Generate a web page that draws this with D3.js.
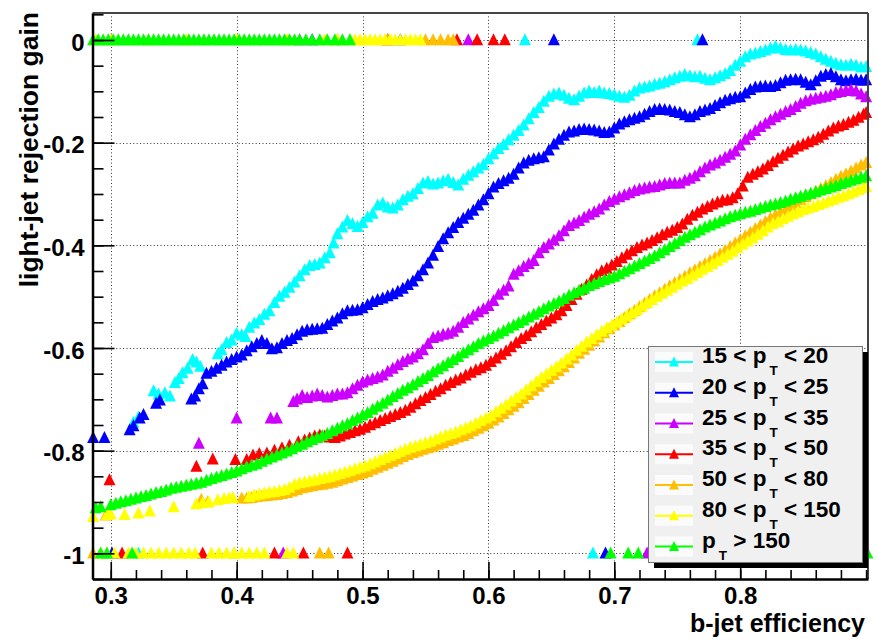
<!DOCTYPE html>
<html><head><meta charset="utf-8">
<script src="https://cdn.jsdelivr.net/npm/d3@7"></script>
<style>
body{margin:0;background:#fff}
svg{display:block}
text{font-family:"Liberation Sans",Arial,Helvetica,sans-serif;font-weight:bold;fill:#000}
</style>
</head><body>
<svg id="c" width="877" height="641"></svg>
<script>
// ---------------- DATA (b-jet efficiency, light-jet rejection gain) ----------------
const seriesLabels = ["15 < p_T < 20","20 < p_T < 25","25 < p_T < 35","35 < p_T < 50","50 < p_T < 80","80 < p_T < 150","p_T > 150"];
const xTickValues = [0.3,0.4,0.5,0.6,0.7,0.8];
const xTickLabels = ["0.3","0.4","0.5","0.6","0.7","0.8"];
const yTickValues = [0,-0.2,-0.4,-0.6,-0.8,-1];
const yTickLabels = ["0","-0.2","-0.4","-0.6","-0.8","-1"];

const pt15_20 = [[0.318,-0.745],[0.322,-0.735],[0.334,-0.684],[0.338,-0.690],[0.343,-0.688],[0.347,-0.694],[0.351,-0.668],[0.354,-0.660],[0.357,-0.649],[0.361,-0.640],[0.365,-0.623],[0.368,-0.628],[0.371,-0.636],[0.385,-0.612],[0.388,-0.604],[0.392,-0.590],[0.396,-0.585],[0.400,-0.572],[0.404,-0.575],[0.407,-0.578],[0.410,-0.560],[0.414,-0.552],[0.418,-0.545],[0.422,-0.535],[0.426,-0.528],[0.430,-0.512],[0.434,-0.500],[0.438,-0.492],[0.442,-0.482],[0.446,-0.472],[0.450,-0.460],[0.454,-0.448],[0.458,-0.440],[0.462,-0.438],[0.466,-0.435],[0.470,-0.425],[0.474,-0.415],[0.477,-0.396],[0.480,-0.378],[0.484,-0.365],[0.488,-0.352],[0.492,-0.358],[0.496,-0.364],[0.500,-0.356],[0.504,-0.345],[0.508,-0.338],[0.512,-0.322],[0.516,-0.318],[0.520,-0.326],[0.524,-0.328],[0.528,-0.322],[0.532,-0.312],[0.536,-0.305],[0.540,-0.300],[0.544,-0.290],[0.548,-0.279],[0.552,-0.276],[0.556,-0.281],[0.560,-0.279],[0.564,-0.275],[0.568,-0.272],[0.572,-0.278],[0.576,-0.283],[0.580,-0.272],[0.584,-0.264],[0.588,-0.257],[0.592,-0.250],[0.596,-0.243],[0.600,-0.232],[0.604,-0.222],[0.608,-0.212],[0.612,-0.204],[0.616,-0.195],[0.620,-0.186],[0.624,-0.177],[0.628,-0.166],[0.632,-0.154],[0.636,-0.142],[0.640,-0.132],[0.644,-0.120],[0.648,-0.110],[0.652,-0.106],[0.656,-0.104],[0.660,-0.108],[0.664,-0.114],[0.668,-0.117],[0.672,-0.110],[0.676,-0.104],[0.680,-0.100],[0.684,-0.103],[0.688,-0.100],[0.692,-0.104],[0.696,-0.105],[0.700,-0.107],[0.704,-0.110],[0.708,-0.112],[0.712,-0.108],[0.716,-0.100],[0.720,-0.094],[0.724,-0.092],[0.728,-0.090],[0.732,-0.087],[0.736,-0.085],[0.740,-0.082],[0.744,-0.078],[0.748,-0.074],[0.752,-0.071],[0.756,-0.068],[0.760,-0.070],[0.764,-0.072],[0.768,-0.071],[0.772,-0.075],[0.776,-0.078],[0.780,-0.074],[0.784,-0.070],[0.788,-0.066],[0.792,-0.060],[0.796,-0.050],[0.800,-0.042],[0.804,-0.033],[0.808,-0.028],[0.812,-0.026],[0.816,-0.023],[0.820,-0.020],[0.824,-0.016],[0.828,-0.013],[0.832,-0.016],[0.836,-0.019],[0.840,-0.020],[0.844,-0.019],[0.848,-0.020],[0.852,-0.022],[0.856,-0.025],[0.860,-0.028],[0.864,-0.033],[0.868,-0.038],[0.872,-0.042],[0.876,-0.046],[0.880,-0.049],[0.884,-0.050],[0.888,-0.048],[0.892,-0.050],[0.896,-0.053],[0.900,-0.052]];

const pt20_25 = [[0.286,-0.775],[0.295,-0.775],[0.315,-0.760],[0.318,-0.752],[0.323,-0.737],[0.326,-0.730],[0.336,-0.708],[0.339,-0.702],[0.364,-0.700],[0.367,-0.694],[0.370,-0.680],[0.373,-0.670],[0.376,-0.650],[0.380,-0.646],[0.384,-0.640],[0.388,-0.634],[0.392,-0.628],[0.396,-0.623],[0.400,-0.618],[0.404,-0.614],[0.408,-0.606],[0.412,-0.598],[0.416,-0.592],[0.420,-0.586],[0.424,-0.592],[0.428,-0.602],[0.432,-0.600],[0.436,-0.592],[0.440,-0.586],[0.444,-0.582],[0.448,-0.575],[0.452,-0.568],[0.456,-0.565],[0.460,-0.564],[0.464,-0.563],[0.468,-0.562],[0.472,-0.555],[0.476,-0.548],[0.480,-0.542],[0.484,-0.534],[0.488,-0.528],[0.492,-0.527],[0.496,-0.526],[0.500,-0.522],[0.504,-0.516],[0.508,-0.510],[0.512,-0.506],[0.516,-0.503],[0.520,-0.499],[0.524,-0.495],[0.528,-0.490],[0.532,-0.484],[0.536,-0.477],[0.540,-0.470],[0.544,-0.460],[0.548,-0.448],[0.552,-0.435],[0.556,-0.420],[0.560,-0.403],[0.564,-0.388],[0.568,-0.376],[0.572,-0.366],[0.576,-0.356],[0.580,-0.348],[0.584,-0.340],[0.588,-0.332],[0.592,-0.322],[0.596,-0.312],[0.600,-0.300],[0.604,-0.287],[0.608,-0.280],[0.612,-0.275],[0.616,-0.270],[0.620,-0.262],[0.624,-0.250],[0.628,-0.240],[0.632,-0.235],[0.636,-0.232],[0.640,-0.230],[0.644,-0.228],[0.648,-0.215],[0.652,-0.203],[0.656,-0.194],[0.660,-0.186],[0.664,-0.180],[0.668,-0.178],[0.672,-0.175],[0.676,-0.174],[0.680,-0.175],[0.684,-0.176],[0.688,-0.178],[0.692,-0.181],[0.696,-0.180],[0.700,-0.172],[0.704,-0.164],[0.708,-0.160],[0.712,-0.156],[0.716,-0.153],[0.720,-0.150],[0.724,-0.145],[0.728,-0.140],[0.732,-0.136],[0.736,-0.135],[0.740,-0.136],[0.744,-0.137],[0.748,-0.140],[0.752,-0.142],[0.756,-0.146],[0.760,-0.150],[0.764,-0.146],[0.768,-0.140],[0.772,-0.137],[0.776,-0.134],[0.780,-0.128],[0.784,-0.123],[0.788,-0.118],[0.792,-0.115],[0.796,-0.112],[0.800,-0.111],[0.804,-0.104],[0.808,-0.097],[0.812,-0.092],[0.816,-0.091],[0.820,-0.090],[0.824,-0.091],[0.828,-0.089],[0.832,-0.084],[0.836,-0.079],[0.840,-0.078],[0.844,-0.077],[0.848,-0.078],[0.852,-0.083],[0.856,-0.088],[0.860,-0.080],[0.864,-0.071],[0.868,-0.068],[0.872,-0.066],[0.876,-0.072],[0.880,-0.078],[0.884,-0.080],[0.888,-0.078],[0.892,-0.077],[0.896,-0.079],[0.900,-0.078]];

const pt25_35 = [[0.370,-0.786],[0.400,-0.737],[0.427,-0.737],[0.432,-0.737],[0.445,-0.705],[0.448,-0.700],[0.452,-0.693],[0.456,-0.697],[0.460,-0.694],[0.464,-0.690],[0.468,-0.693],[0.472,-0.696],[0.476,-0.693],[0.480,-0.690],[0.484,-0.690],[0.488,-0.688],[0.492,-0.680],[0.496,-0.673],[0.500,-0.667],[0.504,-0.663],[0.508,-0.660],[0.512,-0.657],[0.516,-0.653],[0.520,-0.646],[0.524,-0.640],[0.528,-0.633],[0.532,-0.627],[0.536,-0.622],[0.540,-0.618],[0.544,-0.612],[0.548,-0.604],[0.552,-0.592],[0.556,-0.580],[0.560,-0.577],[0.564,-0.574],[0.568,-0.572],[0.572,-0.568],[0.576,-0.560],[0.580,-0.551],[0.584,-0.544],[0.588,-0.537],[0.592,-0.530],[0.596,-0.524],[0.600,-0.518],[0.604,-0.508],[0.608,-0.496],[0.612,-0.488],[0.616,-0.480],[0.620,-0.457],[0.624,-0.450],[0.628,-0.442],[0.632,-0.436],[0.636,-0.430],[0.640,-0.415],[0.644,-0.405],[0.648,-0.398],[0.652,-0.390],[0.656,-0.382],[0.660,-0.372],[0.664,-0.362],[0.668,-0.357],[0.672,-0.352],[0.676,-0.346],[0.680,-0.340],[0.684,-0.335],[0.688,-0.330],[0.692,-0.322],[0.696,-0.315],[0.700,-0.311],[0.704,-0.306],[0.708,-0.302],[0.712,-0.298],[0.716,-0.294],[0.720,-0.291],[0.724,-0.289],[0.728,-0.287],[0.732,-0.286],[0.736,-0.283],[0.740,-0.280],[0.744,-0.279],[0.748,-0.279],[0.752,-0.279],[0.756,-0.274],[0.760,-0.270],[0.764,-0.265],[0.768,-0.257],[0.772,-0.250],[0.776,-0.244],[0.780,-0.240],[0.784,-0.235],[0.788,-0.229],[0.792,-0.223],[0.796,-0.217],[0.800,-0.205],[0.804,-0.194],[0.808,-0.185],[0.812,-0.177],[0.816,-0.169],[0.820,-0.163],[0.824,-0.156],[0.828,-0.150],[0.832,-0.145],[0.836,-0.140],[0.840,-0.136],[0.844,-0.130],[0.848,-0.124],[0.852,-0.119],[0.856,-0.116],[0.860,-0.114],[0.864,-0.112],[0.868,-0.110],[0.872,-0.107],[0.876,-0.103],[0.880,-0.101],[0.884,-0.099],[0.888,-0.097],[0.892,-0.100],[0.896,-0.106],[0.900,-0.111]];

const pt35_50 = [[0.299,-0.857],[0.368,-0.831],[0.381,-0.817],[0.399,-0.818],[0.408,-0.818],[0.413,-0.809],[0.418,-0.806],[0.424,-0.805],[0.430,-0.800],[0.436,-0.795],[0.442,-0.790],[0.449,-0.783],[0.454,-0.780],[0.458,-0.776],[0.462,-0.772],[0.466,-0.770],[0.470,-0.772],[0.474,-0.774],[0.478,-0.775],[0.482,-0.772],[0.486,-0.768],[0.490,-0.765],[0.494,-0.762],[0.498,-0.759],[0.502,-0.755],[0.506,-0.750],[0.510,-0.746],[0.514,-0.742],[0.518,-0.738],[0.522,-0.734],[0.526,-0.730],[0.530,-0.726],[0.534,-0.722],[0.538,-0.716],[0.542,-0.709],[0.546,-0.703],[0.550,-0.697],[0.554,-0.691],[0.558,-0.685],[0.562,-0.680],[0.566,-0.673],[0.570,-0.668],[0.574,-0.663],[0.578,-0.659],[0.582,-0.653],[0.586,-0.648],[0.590,-0.643],[0.594,-0.639],[0.598,-0.634],[0.602,-0.627],[0.606,-0.620],[0.610,-0.613],[0.614,-0.606],[0.618,-0.598],[0.622,-0.590],[0.626,-0.582],[0.630,-0.576],[0.634,-0.569],[0.638,-0.561],[0.642,-0.555],[0.646,-0.548],[0.650,-0.542],[0.654,-0.536],[0.658,-0.528],[0.662,-0.518],[0.666,-0.506],[0.670,-0.496],[0.674,-0.486],[0.678,-0.478],[0.682,-0.467],[0.686,-0.458],[0.690,-0.450],[0.694,-0.445],[0.698,-0.439],[0.702,-0.432],[0.706,-0.425],[0.710,-0.418],[0.714,-0.411],[0.718,-0.405],[0.722,-0.400],[0.726,-0.396],[0.730,-0.391],[0.734,-0.386],[0.738,-0.380],[0.742,-0.375],[0.746,-0.371],[0.750,-0.366],[0.754,-0.359],[0.758,-0.350],[0.762,-0.342],[0.766,-0.336],[0.770,-0.330],[0.774,-0.325],[0.778,-0.320],[0.782,-0.316],[0.786,-0.313],[0.790,-0.312],[0.794,-0.308],[0.798,-0.300],[0.802,-0.285],[0.806,-0.268],[0.810,-0.262],[0.814,-0.257],[0.818,-0.252],[0.822,-0.245],[0.826,-0.238],[0.830,-0.231],[0.834,-0.225],[0.838,-0.219],[0.842,-0.213],[0.846,-0.207],[0.850,-0.203],[0.854,-0.199],[0.858,-0.195],[0.862,-0.190],[0.866,-0.184],[0.870,-0.178],[0.874,-0.172],[0.878,-0.168],[0.882,-0.165],[0.886,-0.161],[0.890,-0.157],[0.894,-0.151],[0.898,-0.145],[0.900,-0.142]];

const pt50_80 = [[0.296,-0.926],[0.372,-0.895],[0.377,-0.900],[0.404,-0.893],[0.408,-0.893],[0.412,-0.892],[0.416,-0.890],[0.420,-0.889],[0.424,-0.888],[0.428,-0.887],[0.432,-0.886],[0.436,-0.884],[0.440,-0.882],[0.444,-0.879],[0.448,-0.876],[0.452,-0.873],[0.456,-0.871],[0.460,-0.869],[0.464,-0.867],[0.468,-0.866],[0.472,-0.864],[0.476,-0.862],[0.480,-0.859],[0.484,-0.856],[0.488,-0.853],[0.492,-0.850],[0.496,-0.847],[0.500,-0.844],[0.504,-0.841],[0.508,-0.837],[0.512,-0.833],[0.516,-0.829],[0.520,-0.825],[0.524,-0.821],[0.528,-0.817],[0.532,-0.812],[0.536,-0.808],[0.540,-0.804],[0.544,-0.801],[0.548,-0.798],[0.552,-0.795],[0.556,-0.792],[0.560,-0.788],[0.564,-0.785],[0.568,-0.781],[0.572,-0.778],[0.576,-0.774],[0.580,-0.771],[0.584,-0.767],[0.588,-0.762],[0.592,-0.757],[0.596,-0.752],[0.600,-0.747],[0.604,-0.741],[0.608,-0.735],[0.612,-0.728],[0.616,-0.721],[0.620,-0.714],[0.624,-0.707],[0.628,-0.699],[0.632,-0.691],[0.636,-0.683],[0.640,-0.675],[0.644,-0.667],[0.648,-0.660],[0.652,-0.652],[0.656,-0.645],[0.660,-0.637],[0.664,-0.629],[0.668,-0.620],[0.672,-0.611],[0.676,-0.603],[0.680,-0.595],[0.684,-0.587],[0.688,-0.579],[0.692,-0.571],[0.696,-0.563],[0.700,-0.556],[0.704,-0.549],[0.708,-0.541],[0.712,-0.534],[0.716,-0.527],[0.720,-0.520],[0.724,-0.513],[0.728,-0.506],[0.732,-0.499],[0.736,-0.493],[0.740,-0.486],[0.744,-0.479],[0.748,-0.473],[0.752,-0.467],[0.756,-0.461],[0.760,-0.454],[0.764,-0.448],[0.768,-0.442],[0.772,-0.436],[0.776,-0.430],[0.780,-0.424],[0.784,-0.417],[0.788,-0.410],[0.792,-0.403],[0.796,-0.396],[0.800,-0.389],[0.804,-0.382],[0.808,-0.375],[0.812,-0.368],[0.816,-0.361],[0.820,-0.354],[0.824,-0.347],[0.828,-0.341],[0.832,-0.335],[0.836,-0.330],[0.840,-0.324],[0.844,-0.318],[0.848,-0.312],[0.852,-0.306],[0.856,-0.300],[0.860,-0.295],[0.864,-0.290],[0.868,-0.284],[0.872,-0.278],[0.876,-0.272],[0.880,-0.266],[0.884,-0.261],[0.888,-0.256],[0.892,-0.250],[0.896,-0.244],[0.900,-0.239]];

const pt80_150 = [[0.286,-0.929],[0.297,-0.925],[0.300,-0.924],[0.311,-0.925],[0.322,-0.922],[0.331,-0.918],[0.350,-0.910],[0.368,-0.904],[0.373,-0.902],[0.378,-0.900],[0.385,-0.896],[0.390,-0.894],[0.394,-0.893],[0.397,-0.892],[0.410,-0.890],[0.414,-0.887],[0.418,-0.885],[0.422,-0.883],[0.426,-0.881],[0.430,-0.880],[0.434,-0.878],[0.438,-0.876],[0.442,-0.872],[0.446,-0.866],[0.450,-0.863],[0.454,-0.861],[0.458,-0.859],[0.462,-0.857],[0.466,-0.855],[0.470,-0.853],[0.474,-0.851],[0.478,-0.848],[0.482,-0.845],[0.486,-0.842],[0.490,-0.839],[0.494,-0.836],[0.498,-0.833],[0.502,-0.830],[0.506,-0.826],[0.510,-0.822],[0.514,-0.818],[0.518,-0.814],[0.522,-0.810],[0.526,-0.806],[0.530,-0.802],[0.534,-0.798],[0.538,-0.794],[0.542,-0.791],[0.546,-0.788],[0.550,-0.785],[0.554,-0.782],[0.558,-0.778],[0.562,-0.774],[0.566,-0.770],[0.570,-0.767],[0.574,-0.764],[0.578,-0.760],[0.582,-0.756],[0.586,-0.752],[0.590,-0.747],[0.594,-0.742],[0.598,-0.737],[0.602,-0.732],[0.606,-0.725],[0.610,-0.718],[0.614,-0.711],[0.618,-0.704],[0.622,-0.697],[0.626,-0.690],[0.630,-0.682],[0.634,-0.674],[0.638,-0.666],[0.642,-0.658],[0.646,-0.651],[0.650,-0.644],[0.654,-0.637],[0.658,-0.630],[0.662,-0.622],[0.666,-0.614],[0.670,-0.605],[0.674,-0.597],[0.678,-0.589],[0.682,-0.582],[0.686,-0.575],[0.690,-0.568],[0.694,-0.561],[0.698,-0.556],[0.702,-0.550],[0.706,-0.544],[0.710,-0.538],[0.714,-0.532],[0.718,-0.526],[0.722,-0.519],[0.726,-0.512],[0.730,-0.506],[0.734,-0.500],[0.738,-0.494],[0.742,-0.488],[0.746,-0.482],[0.750,-0.476],[0.754,-0.470],[0.758,-0.465],[0.762,-0.459],[0.766,-0.453],[0.770,-0.447],[0.774,-0.442],[0.778,-0.436],[0.782,-0.430],[0.786,-0.424],[0.790,-0.418],[0.794,-0.412],[0.798,-0.405],[0.802,-0.398],[0.806,-0.392],[0.810,-0.386],[0.814,-0.379],[0.818,-0.372],[0.822,-0.365],[0.826,-0.358],[0.830,-0.354],[0.834,-0.349],[0.838,-0.344],[0.842,-0.339],[0.846,-0.335],[0.850,-0.331],[0.854,-0.328],[0.858,-0.325],[0.862,-0.321],[0.866,-0.318],[0.870,-0.314],[0.874,-0.311],[0.878,-0.307],[0.882,-0.304],[0.886,-0.300],[0.890,-0.296],[0.894,-0.292],[0.898,-0.288],[0.900,-0.286]];

const pt150 = [[0.288,-0.912],[0.292,-0.910],[0.300,-0.906],[0.304,-0.903],[0.308,-0.900],[0.312,-0.898],[0.316,-0.895],[0.320,-0.893],[0.324,-0.890],[0.328,-0.888],[0.332,-0.885],[0.336,-0.882],[0.340,-0.880],[0.344,-0.877],[0.348,-0.874],[0.352,-0.872],[0.356,-0.870],[0.360,-0.868],[0.364,-0.866],[0.368,-0.864],[0.372,-0.862],[0.376,-0.858],[0.380,-0.855],[0.384,-0.852],[0.388,-0.849],[0.392,-0.846],[0.396,-0.843],[0.400,-0.840],[0.404,-0.836],[0.408,-0.832],[0.412,-0.829],[0.416,-0.826],[0.420,-0.821],[0.424,-0.817],[0.428,-0.813],[0.432,-0.809],[0.436,-0.805],[0.440,-0.801],[0.444,-0.797],[0.448,-0.792],[0.452,-0.788],[0.456,-0.783],[0.460,-0.779],[0.464,-0.775],[0.468,-0.771],[0.472,-0.767],[0.476,-0.762],[0.480,-0.757],[0.484,-0.752],[0.488,-0.748],[0.492,-0.742],[0.496,-0.737],[0.500,-0.731],[0.504,-0.726],[0.508,-0.720],[0.512,-0.714],[0.516,-0.708],[0.520,-0.702],[0.524,-0.695],[0.528,-0.689],[0.532,-0.683],[0.536,-0.678],[0.540,-0.672],[0.544,-0.666],[0.548,-0.660],[0.552,-0.654],[0.556,-0.647],[0.560,-0.641],[0.564,-0.635],[0.568,-0.629],[0.572,-0.623],[0.576,-0.617],[0.580,-0.610],[0.584,-0.604],[0.588,-0.598],[0.592,-0.592],[0.596,-0.587],[0.600,-0.582],[0.604,-0.577],[0.608,-0.572],[0.612,-0.567],[0.616,-0.561],[0.620,-0.556],[0.624,-0.551],[0.628,-0.546],[0.632,-0.540],[0.636,-0.535],[0.640,-0.530],[0.644,-0.524],[0.648,-0.519],[0.652,-0.514],[0.656,-0.509],[0.660,-0.504],[0.664,-0.498],[0.668,-0.493],[0.672,-0.488],[0.676,-0.484],[0.680,-0.479],[0.684,-0.475],[0.688,-0.471],[0.692,-0.467],[0.696,-0.464],[0.700,-0.461],[0.704,-0.456],[0.708,-0.451],[0.712,-0.446],[0.716,-0.441],[0.720,-0.436],[0.724,-0.431],[0.728,-0.426],[0.732,-0.421],[0.736,-0.415],[0.740,-0.409],[0.744,-0.403],[0.748,-0.397],[0.752,-0.391],[0.756,-0.385],[0.760,-0.380],[0.764,-0.375],[0.768,-0.370],[0.772,-0.365],[0.776,-0.361],[0.780,-0.357],[0.784,-0.353],[0.788,-0.349],[0.792,-0.345],[0.796,-0.342],[0.800,-0.339],[0.804,-0.336],[0.808,-0.334],[0.812,-0.331],[0.816,-0.328],[0.820,-0.325],[0.824,-0.322],[0.828,-0.320],[0.832,-0.317],[0.836,-0.314],[0.840,-0.311],[0.844,-0.308],[0.848,-0.305],[0.852,-0.302],[0.856,-0.299],[0.860,-0.296],[0.864,-0.293],[0.868,-0.290],[0.872,-0.287],[0.876,-0.284],[0.880,-0.280],[0.884,-0.277],[0.888,-0.274],[0.892,-0.271],[0.896,-0.268],[0.900,-0.265]];

// efficiencies of points sitting at gain = 0 and gain = -1, per series
const zero15_20 = [0.480,0.629,0.766];
const zero20_25 = [0.460,0.530,0.652,0.770];
const zero25_35 = [0.450,0.520,0.584];
const zero35_50 = [0.520,0.575,0.591,0.604,0.613];
const zero50_80 = [0.480,0.520,0.550,0.556,0.562,0.568,0.572];
const zero80_150 = [0.288,0.300,0.330,0.360,0.400,0.440,0.470,0.480,0.490,0.494,0.498,0.502,0.506,0.510,0.514,0.518,0.522,0.526,0.530,0.534,0.538,0.542,0.546];
const zero150 = [0.286,0.290,0.294,0.298,0.302,0.306,0.310,0.314,0.318,0.322,0.326,0.330,0.334,0.338,0.342,0.346,0.350,0.354,0.358,0.362,0.366,0.370,0.374,0.378,0.382,0.386,0.390,0.394,0.398,0.402,0.406,0.410,0.414,0.418,0.422,0.426,0.430,0.434,0.438,0.442,0.446,0.450,0.455,0.460,0.466,0.472,0.478,0.484,0.490];
const neg15_20 = [0.322,0.683];
const neg20_25 = [0.301,0.693];
const neg25_35 = [0.437,0.726];
const neg35_50 = [0.309,0.373,0.430,0.453,0.488];
const neg50_80 = [0.286,0.398,0.466,0.473];
const neg80_150 = [0.292,0.297,0.303,0.314,0.320,0.326,0.332,0.338,0.344,0.350,0.356,0.362,0.367,0.380,0.386,0.392,0.398,0.404,0.410,0.416,0.422,0.440,0.445];
const neg150 = [0.292,0.297,0.317,0.697,0.711,0.719,0.901];

// ---------------- STYLE ----------------
const seriesColors = ["#00ffff","#0000ff","#cc00ff","#ff0000","#ffbf00","#ffff00","#00ff00"];
const curves = [pt15_20,pt20_25,pt25_35,pt35_50,pt50_80,pt80_150,pt150];
const zeros = [zero15_20,zero20_25,zero25_35,zero35_50,zero50_80,zero80_150,zero150];
const negs = [neg15_20,neg20_25,neg25_35,neg35_50,neg50_80,neg80_150,neg150];

const svg = d3.select("#c");
svg.append("rect").attr("width",877).attr("height",641).attr("fill","#fff");

const x = d3.scaleLinear().domain([0.2855,0.9015]).range([92.5,868]);
const y = d3.scaleLinear().domain([-1.05,0.0526]).range([579,13]);
const [x0,x1] = x.range(), [y0,y1] = y.range();

// grid
const grid = svg.append("g").attr("stroke","#333").attr("stroke-width",1).attr("stroke-dasharray","1,2.4");
grid.selectAll(".gx").data(xTickValues).join("line")
  .attr("x1",d=>Math.round(x(d))+0.5).attr("x2",d=>Math.round(x(d))+0.5).attr("y1",y1).attr("y2",y0);
grid.selectAll(".gy").data(yTickValues).join("line")
  .attr("y1",d=>Math.round(y(d))+0.5).attr("y2",d=>Math.round(y(d))+0.5).attr("x1",x0).attr("x2",x1);

// markers
const tri = "M-6,5.2L6,5.2L0,-6.8Z";
const triLeg = "M-5,4.5L5,4.5L0,-5.5Z";
const marks = svg.append("g");
curves.forEach((pts,i)=>{
  const all = pts.concat(zeros[i].map(e=>[e,0])).concat(negs[i].map(e=>[e,-1]));
  marks.append("g").attr("fill",seriesColors[i])
    .selectAll("path").data(all).join("path")
    .attr("d",tri).attr("transform",d=>`translate(${x(d[0]).toFixed(2)},${y(d[1]).toFixed(2)})`);
});

// frame top/right
svg.append("line").attr("x1",x0).attr("x2",x1).attr("y1",y1).attr("y2",y1).attr("stroke","#444").attr("stroke-width",2);
svg.append("line").attr("x1",x1).attr("x2",x1).attr("y1",y1).attr("y2",y0).attr("stroke","#444").attr("stroke-width",2);

// axes
function styleAxis(g){ g.selectAll("path").attr("stroke","#000").attr("stroke-width",2.5);
  g.selectAll("line").attr("stroke","#000").attr("stroke-width",1.6); }
const gyMin = svg.append("g").attr("transform",`translate(${x0},0)`)
  .call(d3.axisLeft(y).ticks(22).tickSize(-11).tickFormat("")).call(styleAxis);
gyMin.select("path").remove();
const gy = svg.append("g").attr("transform",`translate(${x0},0)`)
  .call(d3.axisLeft(y).tickValues(yTickValues).tickSize(-22).tickPadding(8)
    .tickFormat((d,i)=>yTickLabels[i]).tickSizeOuter(0)).call(styleAxis);
gy.selectAll("text").attr("font-size",24).attr("dy","0.42em");
const gxMin = svg.append("g").attr("transform",`translate(0,${y0})`)
  .call(d3.axisBottom(x).ticks(30).tickSize(-9).tickFormat("")).call(styleAxis);
gxMin.select("path").remove();
const gx = svg.append("g").attr("transform",`translate(0,${y0})`)
  .call(d3.axisBottom(x).tickValues(xTickValues).tickSize(-17).tickPadding(8)
    .tickFormat((d,i)=>xTickLabels[i]).tickSizeOuter(0)).call(styleAxis);
gx.selectAll("text").attr("font-size",24);
svg.selectAll(".domain").attr("stroke","#000");
svg.selectAll(".tick text").attr("font-family",null).attr("fill","#000").attr("font-weight","bold");

// axis titles
svg.append("text").attr("x",865).attr("y",632).attr("text-anchor","end").attr("font-size",25).text("b-jet efficiency");
svg.append("text").attr("transform","translate(38,12) rotate(-90)").attr("text-anchor","end").attr("font-size",26.5).text("light-jet rejection gain");

// legend
const L = {x:648,y:346,w:214,h:216};
svg.append("rect").attr("x",L.x+6).attr("y",L.y+6).attr("width",L.w).attr("height",L.h).attr("fill","#000");
svg.append("rect").attr("x",L.x+0.5).attr("y",L.y+0.5).attr("width",L.w).attr("height",L.h).attr("fill","#f0f0f0").attr("stroke","#777");
seriesLabels.forEach((lab,i)=>{
  const cy = 362 + i*30.75;
  const g = svg.append("g");
  g.append("rect").attr("x",655).attr("y",cy-10).attr("width",38).attr("height",20).attr("fill","#fbfbfb");
  g.append("line").attr("x1",655).attr("x2",693).attr("y1",cy).attr("y2",cy).attr("stroke",seriesColors[i]).attr("stroke-width",2);
  g.append("path").attr("d",triLeg).attr("transform",`translate(674,${cy})`).attr("fill",seriesColors[i]);
  const parts = lab.split("_T");
  const t = g.append("text").attr("x",702).attr("y",cy+1).attr("font-size",22.5);
  t.append("tspan").text(parts[0]);
  t.append("tspan").attr("dx",3).attr("dy",12).attr("font-size",13.5).text("T");
  t.append("tspan").attr("dy",-12).attr("font-size",22.5).text(parts[1]);
});
</script>
</body></html>
